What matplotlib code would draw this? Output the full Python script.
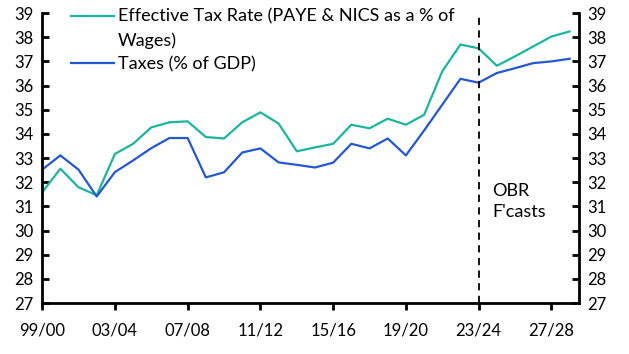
import matplotlib
matplotlib.use("Agg")
import matplotlib.pyplot as plt
from matplotlib import ticker
from matplotlib.lines import Line2D

plt.rcParams['font.family'] = ['Lato', 'DejaVu Sans']

years = ['99/00', '00/01', '01/02', '02/03', '03/04', '04/05', '05/06', '06/07', '07/08', '08/09',
         '09/10', '10/11', '11/12', '12/13', '13/14', '14/15', '15/16', '16/17', '17/18', '18/19',
         '19/20', '20/21', '21/22', '22/23', '23/24', '24/25', '25/26', '26/27', '27/28', '28/29']

effective_rate = [31.58, 32.56, 31.79, 31.46, 33.17, 33.59, 34.27, 34.48, 34.52, 33.87,
                  33.81, 34.48, 34.89, 34.43, 33.28, 33.44, 33.59, 34.38, 34.23, 34.63,
                  34.38, 34.79, 36.59, 37.70, 37.54, 36.82, 37.21, 37.62, 38.03, 38.24]

taxes_gdp = [32.52, 33.11, 32.52, 31.41, 32.42, 32.90, 33.41, 33.83, 33.83, 32.20,
             32.41, 33.23, 33.40, 32.82, 32.72, 32.61, 32.81, 33.59, 33.40, 33.81,
             33.11, 34.14, 35.21, 36.28, 36.12, 36.52, 36.72, 36.93, 37.00, 37.11]

forecast_start = '23/24'

fig = plt.figure(figsize=(6.29, 3.54), dpi=100)
ax = fig.add_axes([0.067, 0.144, 0.853, 0.819])

x = list(range(len(years)))
l1, = ax.plot(x, effective_rate, color='#1bb59e', linewidth=1.6)
l2, = ax.plot(x, taxes_gdp, color='#2557d2', linewidth=1.6)

fc = years.index(forecast_start)
ax.axvline(fc, color='black', linestyle=(0, (4, 3)), linewidth=1.3)
ax.text(fc + 0.75, 31.2, "OBR\nF'casts", fontsize=13, va='center', ha='left', linespacing=1.45)

ax.set_xlim(0, len(years) - 0.5)
ax.set_ylim(27, 39)
ax.yaxis.set_major_locator(ticker.MultipleLocator(1))
ax.set_xticks(x[::4])
ax.set_xticklabels(years[::4])

ax.spines['top'].set_visible(False)
for s in ['left', 'right', 'bottom']:
    ax.spines[s].set_linewidth(2)

ax.tick_params(axis='y', direction='in', length=5, width=2, labelsize=12,
               left=True, right=True, labelleft=True, labelright=True, pad=6)
ax.tick_params(axis='x', direction='out', length=5, width=2, labelsize=12, pad=9)

# first label wraps onto a second row, handle stays on the first
blank = Line2D([], [], linestyle='none')
leg = ax.legend([l1, blank, l2],
                ['Effective Tax Rate (PAYE & NICS as a % of', 'Wages)', 'Taxes (% of GDP)'],
                loc='upper left', bbox_to_anchor=(0.04, 1.04), frameon=False,
                fontsize=13, handlelength=2.4, handletextpad=0.2, labelspacing=0.4,
                borderaxespad=0)

fig.savefig('out.png', dpi=100)
